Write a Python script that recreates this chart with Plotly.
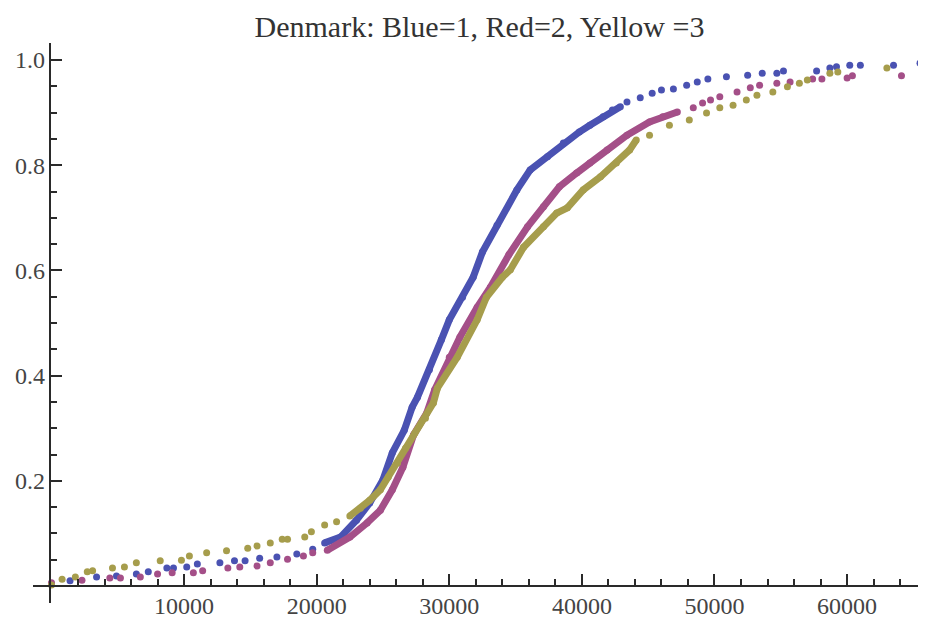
import plotly.graph_objects as go

# ---------------- data ----------------
TITLE = "Denmark: Blue=1, Red=2, Yellow =3"

X_TICKS = [10000, 20000, 30000, 40000, 50000, 60000]
Y_TICKS = [0.2, 0.4, 0.6, 0.8, 1.0]
Y_TICK_LABELS = ["0.2", "0.4", "0.6", "0.8", "1.0"]

# Blue = 1
BLUE_LOW_X = [1400, 3400, 4900, 6400, 7300, 8700, 9200, 10200, 11000, 12700, 13800, 14600, 15700, 17000, 18500, 19700]
BLUE_LOW_Y = [0.010, 0.017, 0.019, 0.023, 0.027, 0.034, 0.034, 0.036, 0.042, 0.044, 0.048, 0.048, 0.053, 0.055, 0.061, 0.070]
BLUE_CORE_X = [20600, 21800, 23000, 24000, 25000, 25700, 26600, 27200, 27600, 28500, 29400, 30000, 31000, 31800, 32500,
               33600, 35100, 36100, 37400, 38600, 39800, 40600, 41600, 42300, 42900]
BLUE_CORE_Y = [0.082, 0.093, 0.125, 0.158, 0.202, 0.253, 0.296, 0.340, 0.359, 0.411, 0.468, 0.506, 0.549, 0.587, 0.635,
               0.686, 0.753, 0.791, 0.816, 0.842, 0.863, 0.876, 0.892, 0.905, 0.911]
BLUE_HIGH_X = [43400, 44400, 45300, 46000, 46900, 47900, 48700, 49500, 50900, 52500, 53600, 54700, 55200, 57700, 58700,
               59200, 60200, 61000, 63500, 65500]
BLUE_HIGH_Y = [0.920, 0.928, 0.937, 0.943, 0.945, 0.952, 0.958, 0.964, 0.968, 0.971, 0.975, 0.975, 0.979, 0.979, 0.985,
               0.987, 0.990, 0.990, 0.990, 0.994]

# Red = 2
RED_LOW_X = [0, 2300, 4400, 5200, 6700, 8000, 9100, 10700, 11400, 13300, 14200, 15500, 16500, 17800, 19000, 19700]
RED_LOW_Y = [0.006, 0.011, 0.015, 0.015, 0.017, 0.023, 0.025, 0.025, 0.029, 0.034, 0.036, 0.038, 0.044, 0.051, 0.057, 0.063]
RED_CORE_X = [20800, 22500, 23800, 24800, 25700, 26500, 27300, 28300, 28900, 30000, 30800, 32100, 33100, 34500, 35900,
              37100, 38300, 39600, 40600, 41900, 43400, 45100, 46100, 47200]
RED_CORE_Y = [0.068, 0.093, 0.120, 0.144, 0.183, 0.226, 0.287, 0.329, 0.373, 0.435, 0.473, 0.530, 0.568, 0.630, 0.683,
              0.721, 0.759, 0.785, 0.804, 0.829, 0.857, 0.882, 0.892, 0.901]
RED_HIGH_X = [48400, 49100, 49700, 50400, 51700, 52700, 53400, 54700, 55700, 57400, 58100, 60000, 60400, 64100, 65700]
RED_HIGH_Y = [0.909, 0.918, 0.924, 0.930, 0.939, 0.947, 0.952, 0.956, 0.958, 0.964, 0.964, 0.966, 0.970, 0.970, 0.971]

# Yellow = 3
YEL_LOW_X = [0, 800, 1800, 2700, 3100, 4600, 5500, 6400, 8200, 9800, 10400, 11700, 13200, 14800, 15500, 16500, 17400,
             17800, 19100, 19600, 20600, 21500]
YEL_LOW_Y = [0.002, 0.013, 0.017, 0.027, 0.029, 0.034, 0.036, 0.044, 0.048, 0.049, 0.057, 0.063, 0.067, 0.072, 0.076,
             0.082, 0.089, 0.089, 0.093, 0.103, 0.116, 0.122]
YEL_CORE_X = [22500, 23300, 24000, 24800, 25400, 26100, 26700, 27400, 28200, 28800, 29100, 30600, 32100, 32800, 34000,
              34600, 35600, 37100, 38100, 38900, 40100, 41400, 42600, 43600, 44100]
YEL_CORE_Y = [0.133, 0.148, 0.163, 0.183, 0.207, 0.234, 0.262, 0.291, 0.319, 0.348, 0.376, 0.435, 0.506, 0.549, 0.587,
              0.601, 0.644, 0.683, 0.709, 0.719, 0.753, 0.778, 0.804, 0.829, 0.848]
YEL_HIGH_X = [45100, 46600, 48100, 49400, 50400, 51400, 52400, 53200, 54400, 55500, 56400, 57000, 58700, 59300, 63000]
YEL_HIGH_Y = [0.857, 0.876, 0.886, 0.899, 0.909, 0.914, 0.924, 0.933, 0.939, 0.949, 0.956, 0.962, 0.975, 0.977, 0.985]

# ---------------- styling ----------------
COL_BLUE = "#4A52B2"
COL_RED = "#A44F88"
COL_YEL = "#A69D4C"
AXIS_COL = "#2a2a2a"
X_RANGE = [0, 65950]
Y_RANGE = [-0.0323, 1.0323]
X_DOMAIN_START = 0.0207   # the y axis crosses the x axis at x = 0, a little inside the frame

# the page adds an 8 px body margin, so the figure is 8 px smaller than the window
FIG_W, FIG_H = 918, 610

series = [
    (COL_BLUE, BLUE_LOW_X, BLUE_LOW_Y, BLUE_CORE_X, BLUE_CORE_Y, BLUE_HIGH_X, BLUE_HIGH_Y),
    (COL_RED, RED_LOW_X, RED_LOW_Y, RED_CORE_X, RED_CORE_Y, RED_HIGH_X, RED_HIGH_Y),
    (COL_YEL, YEL_LOW_X, YEL_LOW_Y, YEL_CORE_X, YEL_CORE_Y, YEL_HIGH_X, YEL_HIGH_Y),
]

fig = go.Figure()
for col, lx, ly, cx, cy, hx, hy in series:
    fig.add_trace(go.Scatter(x=cx, y=cy, mode="lines", cliponaxis=False,
                             line=dict(color=col, width=7), hoverinfo="skip"))
    fig.add_trace(go.Scatter(x=lx + cx + hx, y=ly + cy + hy, mode="markers", cliponaxis=False,
                             marker=dict(color=col, size=7, line=dict(width=0))))

# empty trace so that the short left stub of the x axis (left of the origin) is drawn
fig.add_trace(go.Scatter(x=[], y=[], xaxis="x2", yaxis="y", hoverinfo="skip"))

x_pos = (0 - Y_RANGE[0]) / (Y_RANGE[1] - Y_RANGE[0])

common_tick = dict(showline=True, linecolor=AXIS_COL, linewidth=1.5,
                   showgrid=False, zeroline=False, automargin=False)

fig.update_layout(
    template="none",
    width=FIG_W, height=FIG_H,
    margin=dict(l=25, r=0, t=35, b=15),
    paper_bgcolor="white", plot_bgcolor="white",
    showlegend=False,
    font=dict(family="Liberation Serif", size=24, color="#444444"),
    title=dict(text=TITLE, x=0.5, xref="paper", xanchor="center",
               y=1 - 18 / FIG_H, yref="container", yanchor="middle",
               font=dict(family="Liberation Serif", size=30, color="#333333")),
    xaxis=dict(range=X_RANGE, domain=[X_DOMAIN_START, 1], anchor="free", position=x_pos,
               ticks="inside", ticklen=11, tickwidth=1.5, tickcolor=AXIS_COL,
               ticklabelstandoff=-2,
               tickvals=X_TICKS, ticktext=[str(v) for v in X_TICKS],
               minor=dict(tick0=0, dtick=2000, ticks="inside", ticklen=6,
                          tickwidth=1.5, tickcolor=AXIS_COL, showgrid=False),
               **common_tick),
    xaxis2=dict(range=[0, 1], domain=[0, X_DOMAIN_START], anchor="free", position=x_pos,
                showticklabels=False, ticks="", **common_tick),
    yaxis=dict(range=Y_RANGE, anchor="x",
               ticks="inside", ticklen=11, tickwidth=1.5, tickcolor=AXIS_COL,
               tickvals=Y_TICKS, ticktext=Y_TICK_LABELS,
               minor=dict(tick0=0, dtick=0.05, ticks="inside", ticklen=6,
                          tickwidth=1.5, tickcolor=AXIS_COL, showgrid=False),
               **common_tick),
)

fig.write_html("out.html")
